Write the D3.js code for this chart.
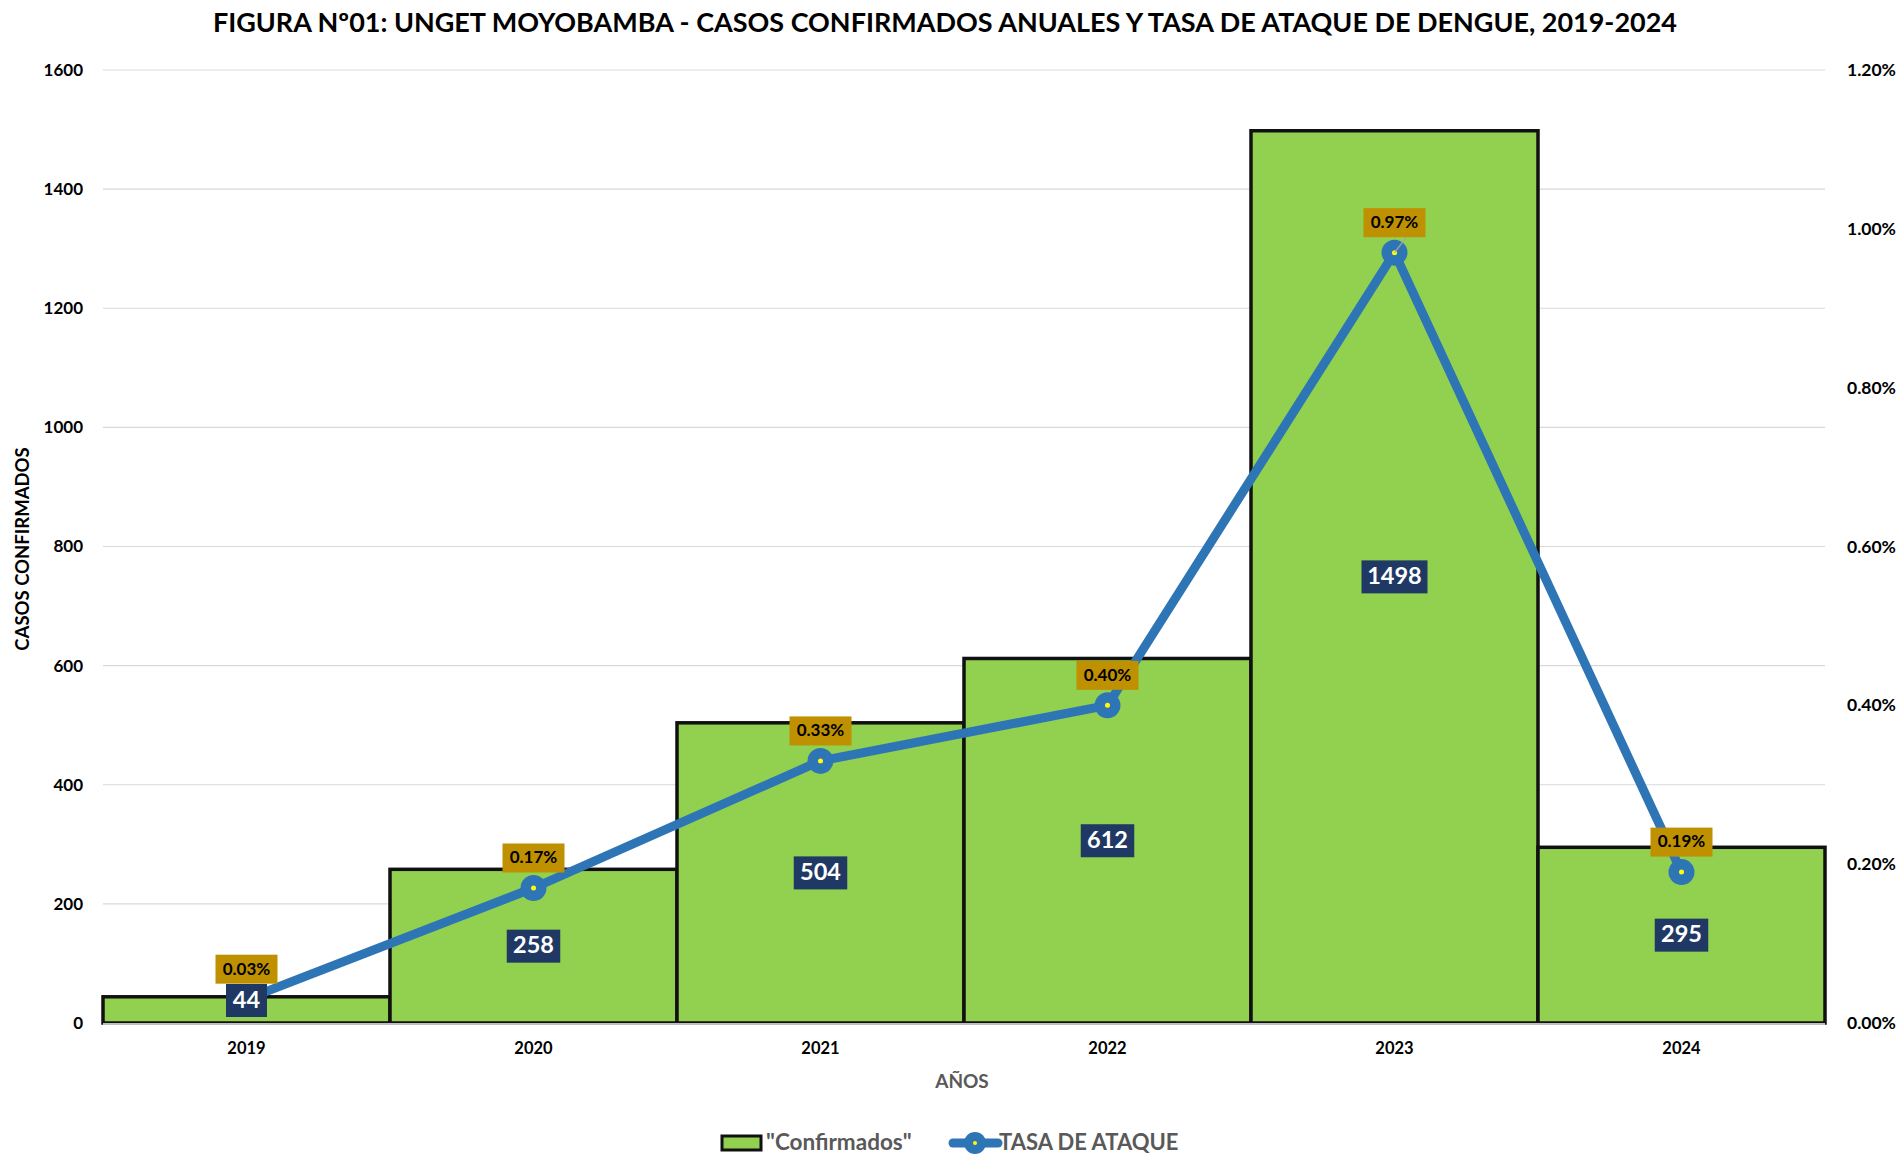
<!DOCTYPE html>
<html><head><meta charset="utf-8">
<script src="https://cdn.jsdelivr.net/npm/d3@7/dist/d3.min.js"></script>
<style>
html,body{margin:0;padding:0;background:#fff;}
svg{display:block;}
text{font-family:"Lato","Noto Sans",sans-serif;}
</style></head>
<body>
<svg id="chart" width="1903" height="1156"></svg>
<script>
const years = ["2019","2020","2021","2022","2023","2024"];
const confirmados = [44, 258, 504, 612, 1498, 295];
const tasaAtaque = [0.0003, 0.0017, 0.0033, 0.0040, 0.0097, 0.0019];
const tasaLabels = ["0.03%","0.17%","0.33%","0.40%","0.97%","0.19%"];
const leftTicks = [0,200,400,600,800,1000,1200,1400,1600];
const rightTicks = [0,0.002,0.004,0.006,0.008,0.010,0.012];
const titleText = "FIGURA Nº01: UNGET MOYOBAMBA - CASOS CONFIRMADOS ANUALES Y TASA DE ATAQUE DE DENGUE, 2019-2024";

const W = 1903, H = 1156;
const m = {left:103, right:78, top:70, bottom:133};
const svg = d3.select("#chart");

const x = d3.scaleBand().domain(years).range([m.left, W - m.right]).padding(0);
const y = d3.scaleLinear().domain([0,1600]).range([H - m.bottom, m.top]);
const y2 = d3.scaleLinear().domain([0,0.012]).range([H - m.bottom, m.top]);

// title
svg.append("text").attr("x", 945).attr("y", 25)
  .attr("text-anchor","middle").attr("dominant-baseline","middle")
  .attr("font-size", 26).attr("font-weight","bold").attr("fill","#000")
  .attr("textLength", 1464).attr("lengthAdjust","spacingAndGlyphs")
  .text(titleText);

// gridlines
svg.append("g").selectAll("line").data(leftTicks.slice(1)).join("line")
  .attr("x1", m.left).attr("x2", W - m.right)
  .attr("y1", d => y(d)).attr("y2", d => y(d))
  .attr("stroke","#d9d9d9").attr("stroke-width",1.2);

// left axis
const ga = svg.append("g").attr("transform",`translate(${m.left},0)`)
  .call(d3.axisLeft(y).tickValues(leftTicks).tickSize(0).tickPadding(20).tickFormat(d3.format("d")));
ga.select(".domain").remove();
ga.selectAll("text").attr("font-size",17).attr("font-weight","bold").attr("fill","#000");

// right axis
const gr = svg.append("g").attr("transform",`translate(${W - m.right},0)`)
  .call(d3.axisRight(y2).tickValues(rightTicks).tickSize(0).tickPadding(22).tickFormat(d3.format(".2%")));
gr.select(".domain").remove();
gr.selectAll("text").attr("font-size",17.5).attr("font-weight","bold").attr("fill","#000");

// bars
svg.append("g").selectAll("rect").data(years).join("rect")
  .attr("x", d => x(d)).attr("width", x.bandwidth())
  .attr("y", (d,i) => y(confirmados[i])).attr("height", (d,i) => y(0) - y(confirmados[i]))
  .attr("fill","#92d050").attr("stroke","#111").attr("stroke-width",3.5);

// baseline
svg.append("line").attr("x1", m.left).attr("x2", W - m.right)
  .attr("y1", y(0)+1).attr("y2", y(0)+1).attr("stroke","#bfbfbf").attr("stroke-width",2);

// x axis labels
const gx = svg.append("g").attr("transform",`translate(0,${y(0)})`)
  .call(d3.axisBottom(x).tickSize(0).tickPadding(19));
gx.select(".domain").remove();
gx.selectAll("text").attr("font-size",16.5).attr("font-weight","bold").attr("fill","#000");

// axis titles
svg.append("text").attr("x", 962).attr("y", 1083).attr("text-anchor","middle")
  .attr("dominant-baseline","middle").attr("font-size",19).attr("font-weight","bold")
  .attr("fill","#595959").text("AÑOS");
svg.append("text").attr("transform","translate(24,549) rotate(-90)").attr("text-anchor","middle")
  .attr("dominant-baseline","middle").attr("font-size",18.5).attr("font-weight","bold")
  .attr("fill","#000").text("CASOS CONFIRMADOS");

// line
const cx = d => x(d) + x.bandwidth()/2;
const line = d3.line().x((d,i) => cx(years[i])).y(d => y2(d));
svg.append("path").datum(tasaAtaque).attr("d", line)
  .attr("fill","none").attr("stroke","#2e75b6").attr("stroke-width",9)
  .attr("stroke-linejoin","round");

// markers
const mk = svg.append("g");
tasaAtaque.forEach((v,i) => {
  mk.append("circle").attr("cx", cx(years[i])).attr("cy", y2(v)).attr("r", 13).attr("fill","#2e75b6");
  mk.append("circle").attr("cx", cx(years[i])).attr("cy", y2(v)).attr("r", 2.5).attr("fill","#ffff00");
});

// bar value labels (drawn above the line, as in the reference)
const bl = svg.append("g");
years.forEach((yr,i) => {
  const t = String(confirmados[i]);
  const w = t.length*12.5 + 16, h = 33;
  let cy = (y(confirmados[i]) + y(0))/2;
  cy = Math.min(cy, y(0) - h/2 - 6);
  bl.append("rect").attr("x", cx(yr) - w/2).attr("y", cy - h/2).attr("width", w).attr("height", h)
    .attr("fill","#1f3864");
  bl.append("text").attr("x", cx(yr)).attr("y", cy+1).attr("text-anchor","middle")
    .attr("dominant-baseline","middle").attr("font-size",23.5).attr("font-weight","bold")
    .attr("fill","#fff").text(t);
});

// percent labels
const pl = svg.append("g");
tasaAtaque.forEach((v,i) => {
  const px = cx(years[i]), py = y2(v) - 30;
  const w = 62, h = 29;
  if (i === 4) {
    pl.append("line").attr("x1", px).attr("y1", y2(v)).attr("x2", px + 12).attr("y2", py + h/2)
      .attr("stroke","#a6a6a6").attr("stroke-width",1.2);
  }
  pl.append("rect").attr("x", px - w/2).attr("y", py - h/2).attr("width", w).attr("height", h).attr("fill","#bf9000");
  pl.append("text").attr("x", px).attr("y", py+1).attr("text-anchor","middle")
    .attr("dominant-baseline","middle").attr("font-size",17).attr("font-weight","bold")
    .attr("fill","#000").text(tasaLabels[i]);
});

// legend
const lg = svg.append("g");
lg.append("rect").attr("x", 722).attr("y", 1136).attr("width", 39).attr("height", 14)
  .attr("fill","#92d050").attr("stroke","#111").attr("stroke-width",3);
lg.append("text").attr("x", 766).attr("y", 1144).attr("dominant-baseline","middle")
  .attr("font-size",22.5).attr("font-weight","bold").attr("fill","#595959").text("\"Confirmados\"");
lg.append("line").attr("x1", 953).attr("x2", 998).attr("y1", 1143).attr("y2", 1143)
  .attr("stroke","#2e75b6").attr("stroke-width",9).attr("stroke-linecap","round");
lg.append("circle").attr("cx", 975).attr("cy", 1143).attr("r", 11).attr("fill","#2e75b6");
lg.append("circle").attr("cx", 975).attr("cy", 1143).attr("r", 2).attr("fill","#ffff00");
lg.append("text").attr("x", 999).attr("y", 1144).attr("dominant-baseline","middle")
  .attr("font-size",22).attr("font-weight","bold").attr("fill","#595959").text("TASA DE ATAQUE");
</script>
</body></html>
